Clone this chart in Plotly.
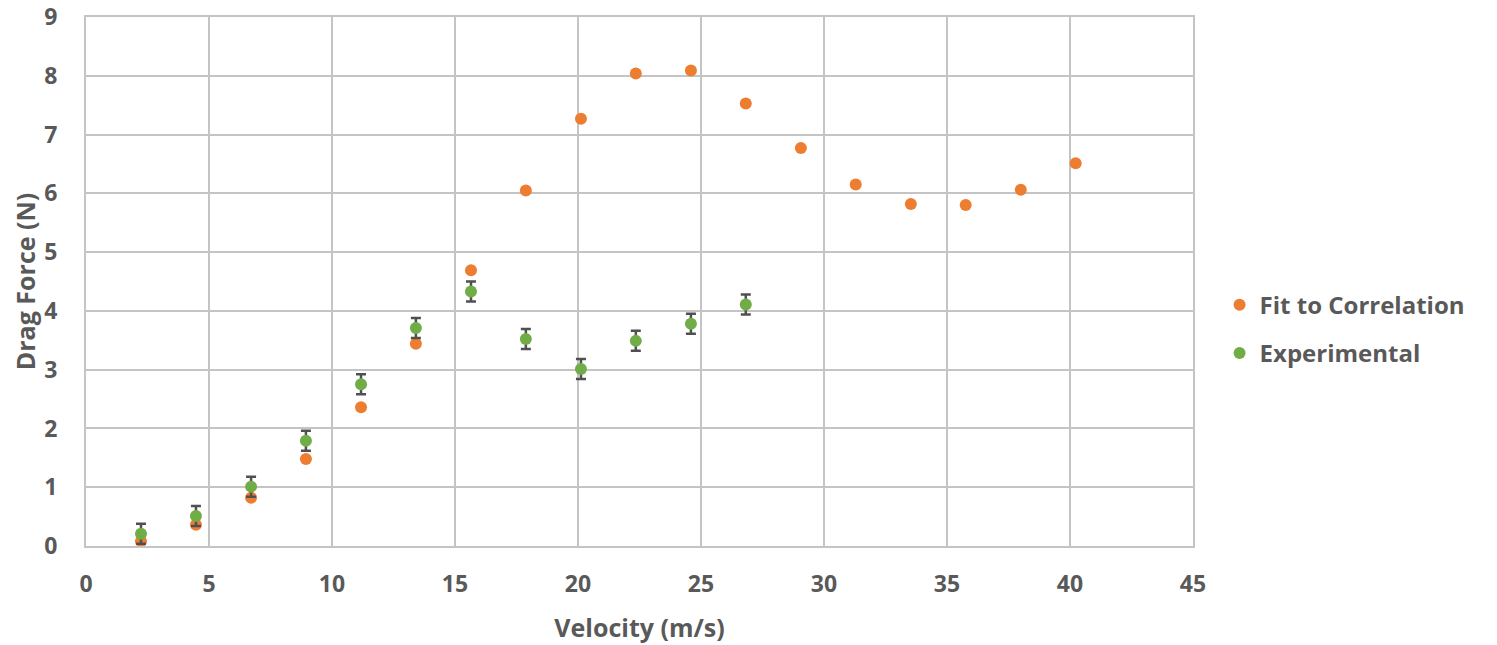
import plotly.graph_objects as go

velocity_fit = [2.235, 4.47, 6.71, 8.94, 11.18, 13.41, 15.65, 17.88, 20.12, 22.35,
                24.59, 26.82, 29.06, 31.29, 33.53, 35.76, 38.0, 40.23]
drag_fit = [0.08, 0.36, 0.82, 1.48, 2.36, 3.44, 4.69, 6.05, 7.27, 8.04,
            8.09, 7.53, 6.77, 6.15, 5.82, 5.80, 6.06, 6.51]

velocity_exp = [2.235, 4.47, 6.71, 8.94, 11.18, 13.41, 15.65, 17.88, 20.12, 22.35, 24.59, 26.82]
drag_exp = [0.21, 0.51, 1.01, 1.79, 2.75, 3.71, 4.33, 3.52, 3.01, 3.49, 3.78, 4.11]
err_exp = [0.17] * len(drag_exp)

x_ticks = [0, 5, 10, 15, 20, 25, 30, 35, 40, 45]
y_ticks = [0, 1, 2, 3, 4, 5, 6, 7, 8, 9]

font_fam = "Open Sans, DejaVu Sans, sans-serif"
txt_col = "#595959"
grid_col = "#C4C4C4"

fig = go.Figure()
fig.add_trace(go.Scatter(
    x=velocity_fit, y=drag_fit, mode="markers", name="Fit to Correlation",
    legendgroup="fit",
    marker=dict(color="#ED7D31", size=12, line=dict(width=0)),
))
fig.add_trace(go.Scatter(
    x=velocity_exp, y=drag_exp, mode="markers", name="Experimental",
    legendgroup="exp",
    marker=dict(color="#70AD47", size=12, line=dict(width=0)),
    error_y=dict(type="data", array=err_exp, visible=True, color="#505050",
                 thickness=2.5, width=5),
))

fig.update_layout(
    width=1489, height=637,
    margin=dict(l=78, r=304, t=9, b=99, autoexpand=False),
    paper_bgcolor="white", plot_bgcolor="white",
    font=dict(family=font_fam, color=txt_col),
    showlegend=True,
    legend=dict(x=1.024, y=0.41, xanchor="left", yanchor="middle",
                font=dict(size=24, color=txt_col, family=font_fam, weight="bold"),
                tracegroupgap=14, itemwidth=30),
    xaxis=dict(
        range=[0, 45], tickvals=x_ticks, ticktext=[str(v) for v in x_ticks],
        showgrid=True, gridcolor=grid_col, gridwidth=1.5,
        showline=True, linecolor=grid_col, linewidth=2, mirror=True,
        zeroline=False, ticks="", ticklabelstandoff=16, automargin=False,
        ticklabeloverflow="allow",
        tickfont=dict(size=23, color=txt_col, family=font_fam, weight="bold"),
        title=dict(text="Velocity (m/s)", standoff=22,
                   font=dict(size=25, color=txt_col, family=font_fam, weight="bold")),
    ),
    yaxis=dict(
        range=[0, 9], tickvals=y_ticks, ticktext=[str(v) for v in y_ticks],
        showgrid=True, gridcolor=grid_col, gridwidth=1.5,
        showline=True, linecolor=grid_col, linewidth=2, mirror=True,
        zeroline=False, ticks="", ticklabelstandoff=22, automargin=False,
        ticklabeloverflow="allow",
        tickfont=dict(size=23, color=txt_col, family=font_fam, weight="bold"),
        title=dict(text="Drag Force (N)", standoff=8,
                   font=dict(size=25, color=txt_col, family=font_fam, weight="bold")),
    ),
)

fig.write_html("out.html")
